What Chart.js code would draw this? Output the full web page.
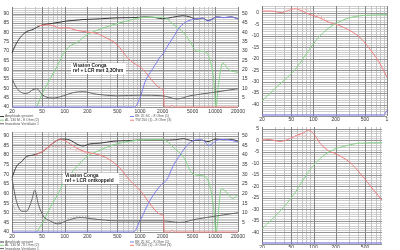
<!DOCTYPE html>
<html>
<head>
<meta charset="utf-8">
<script src="https://cdn.jsdelivr.net/npm/chart.js@4.4.1/dist/chart.umd.min.js"></script>
<style>
  body { margin: 0; background: #fff; width: 400px; height: 250px; overflow: hidden; position: relative; }
  canvas { position: absolute; }
</style>
</head>
<body>
<canvas id="chartA" width="252" height="125" style="left:0;top:0"></canvas>
<canvas id="chartC" width="252" height="125" style="left:0;top:125px"></canvas>
<canvas id="chartB" width="148" height="123" style="left:252px;top:0"></canvas>
<canvas id="chartD" width="148" height="129" style="left:252px;top:121px"></canvas>
<script>
// ---- tick labels ----
const freqLabelsWide = [20, 50, 100, 200, 500, 1000, 2000, 5000, 10000, 20000];
const freqLabelsNarrow = [20, 50, 100, 200, 500, 1000];
const impLabels = [5, 10, 15, 20, 25, 30, 35, 40, 45, 50];

// ---- top left: ref + LCR met 3,3 Ohm ----
const ampA_f = [20, 22, 25.5, 31, 38, 47, 57, 70, 90, 105, 130, 175, 240, 300, 400, 500, 700, 1000, 1100, 1500, 2000, 2700, 3700, 4600, 5600, 6800, 8000, 9000, 10500, 13000, 16000, 20000];
const ampA = [69, 72.7, 77, 80.2, 81.5, 83.5, 84.3, 84.8, 85.5, 86, 86.3, 86.8, 87, 87.2, 87.5, 87.7, 87.8, 88, 88.2, 88, 87.2, 88, 88.8, 88.2, 87, 87.5, 86.2, 87, 88.2, 87.8, 88.2, 87.2];
const blueA_f = [20, 850, 1000, 1170, 1370, 1600, 1860, 2040, 2260, 2740, 3240, 3740, 4330, 5020, 5700, 6800, 8000, 9000, 10500, 13000, 16000, 20000];
const blueA = [40, 40, 45, 53.5, 58.5, 62.7, 67, 68.5, 71.8, 77, 81.8, 84.5, 86, 86.8, 87.3, 87.5, 86, 86.8, 88.2, 87.8, 88.2, 87.2];
const greenA_f = [42.6, 50, 64, 82, 96, 118, 144, 196, 268, 400, 670, 1000, 1500, 2000, 2400, 2800, 3100, 3740, 4600, 5600, 6500, 7400, 8500, 9500, 10200, 11000, 12600, 15000, 20000];
const greenA = [40, 46.8, 55, 62.7, 68.5, 72.7, 74.3, 78.5, 81, 83.5, 86, 87.7, 88, 88, 86.5, 84, 82.7, 80, 75, 70, 69.8, 69.5, 65, 55, 40, 52, 63.5, 60, 58.5];
const redA_f = [45, 60, 70, 87, 105, 144, 196, 268, 363, 492, 670, 820, 1000, 1100, 1500, 1870, 2050, 2100, 2500, 2650, 2800, 20000];
const redA = [83.5, 84, 83.5, 82.2, 82.5, 81, 80.2, 79.3, 76.8, 73.5, 66.8, 63.5, 61.5, 60, 53.5, 50, 48.5, 40, 40, 41, 40, 40];
const impA_f = [20, 23, 27, 31, 38, 42.6, 50, 57.5, 70, 96, 130, 176, 268, 492, 1000, 2000, 3100, 4600, 9000, 20000];
const impA = [15.2, 10.2, 7.7, 7.2, 9.3, 9.8, 6.8, 5.2, 4.8, 6, 7.7, 8.2, 6.8, 6, 6.3, 6, 4.3, 6, 7.7, 9.8];

// ---- bottom left: ref + LCR ontkoppeld ----
const ampC_f = [20, 23, 27, 31, 38, 50, 64, 78, 90, 100, 118, 144, 176, 214, 294, 440, 670, 1000, 2000, 3000, 3740, 5000, 6500, 8000, 10000, 13000, 16000, 20000];
const ampC = [68.3, 74.2, 76.7, 79.2, 80, 81.7, 85, 87.5, 88.3, 88.3, 87.8, 85.8, 84.7, 85.8, 86.2, 87.2, 87.5, 87.8, 87.8, 88, 88.5, 87.5, 87.8, 87, 88.3, 88, 88.2, 87.3];
const blueC_f = [20, 820, 1000, 1370, 1870, 2300, 2740, 3400, 4200, 5100, 6000, 7000, 8200, 9500, 11000, 14000, 20000];
const blueC = [40, 40, 45.8, 56.7, 64.2, 67.5, 74.2, 80, 85, 87.5, 88, 87.5, 85, 86.5, 88, 88, 86.8];
const greenC_f = [42.6, 50, 64, 82, 100, 123, 160, 196, 294, 490, 1000, 1500, 2000, 2400, 2740, 3740, 5100, 6800, 8200, 9500, 10200, 12000, 14000, 17000, 20000];
const greenC = [40, 44.2, 52.5, 60, 66.7, 70.8, 75.8, 79.2, 82.5, 85.8, 87.8, 88, 88, 86.5, 84.2, 79.2, 70, 69.2, 65.8, 52.5, 40, 62.5, 60.8, 57.5, 59.2];
const redC_f = [40, 50, 64, 78, 87, 100, 118, 160, 214, 294, 400, 540, 740, 1000, 1500, 1870, 2050, 2100, 2500, 2650, 2800, 20000];
const redC = [80, 81.7, 85, 87.5, 88.3, 87.5, 85.8, 82.7, 81.2, 80, 77.5, 73.3, 66.7, 61.7, 52.5, 49.2, 48.3, 40, 40, 41, 40, 40];
const refAmpC_f = [45, 55, 70, 90, 110, 140, 180, 230];
const refAmpC = [81, 83, 84.5, 84.5, 84, 82.5, 81.5, 80.8];
const impC_f = [20, 23, 27, 31, 36.7, 40, 45, 52, 64, 82, 105, 160, 250, 490, 1000, 2000, 3400, 5600, 20000];
const impC = [27.5, 15.8, 10.8, 10.8, 16.7, 21.7, 14.2, 8.3, 5.8, 4.2, 5.8, 7.5, 6.7, 5.8, 5.8, 5.8, 5, 6.7, 10];
const refImpC_f = [20, 23, 27, 31, 38, 42.6, 50, 57.5, 70, 96, 130, 176, 268];
const refImpC = [15.2, 10.2, 7.7, 7.2, 9.3, 9.8, 6.8, 5.2, 4.8, 6, 7.7, 8.2, 6.8];

// ---- top right ----
const redB_f = [20, 27, 37, 43, 57, 70, 86, 117, 160, 220, 300, 410, 560, 770, 1000];
const redB = [0.8, 0.8, 0.1, 0.8, 1.8, 0.8, -0.5, -1.9, -4, -5.4, -7.4, -10.2, -15, -21.2, -28];
const refRedB_f = [40, 57, 70, 86, 117, 150];
const refRedB = [0.6, 2.0, 1.8, 1.2, -0.8, -3];
const greenB_f = [20, 34, 57, 86, 117, 160, 220, 330, 560, 1000];
const greenB = [-38.4, -31.4, -24.6, -16.4, -10.8, -6.7, -4, -1.9, -1, -0.8];
const blueB_f = [20, 900, 1000];
const blueB = [-44.6, -44.6, -42.5];

// ---- bottom right ----
const redD_f = [20, 25, 35, 48, 59, 73, 85, 100, 123, 150, 206, 310, 430, 590, 850];
const redD = [0.1, 0.4, -0.5, 0.8, 2.2, 3.2, 4.5, 2.9, -1.2, -4, -6, -9.5, -14.3, -19.8, -26];
const refRedD_f = [48, 60, 75, 100, 130, 160];
const refRedD = [0.8, 1.8, 2.0, 0.5, -1.8, -4.3];
const greenD_f = [20, 35, 53, 73, 100, 136, 187, 283, 430, 850];
const greenD = [-38.4, -30.8, -23.9, -17, -10.9, -6.7, -4, -2.3, -1.2, -1];
const blueD_f = [20, 850];
const blueD = [-44.6, -44.6];

const BLACK = '#3a3a3a', GRAY = '#666666', GREEN = '#84d384', RED = '#ef7c7c', BLUE = '#7c7cef';

Chart.defaults.font.family = 'Liberation Sans';
Chart.defaults.font.size = 5;
Chart.defaults.color = '#333';

function pts(f, v) {
    return f.map((x, i) => ({ x: x, y: v[i] }));
}

function line(label, f, v, color, extra) {
    return Object.assign({
        label: label,
        data: pts(f, v),
        borderColor: color,
        borderWidth: 1,
        pointRadius: 0,
        cubicInterpolationMode: 'monotone',
        clip: false,
        yAxisID: 'y'
    }, extra || {});
}

// grid lines at 20..90, 100..900, ... up to max
function freqGrid(max) {
    const out = [];
    for (let d = 10; d <= max; d *= 10) {
        for (let m = 1; m <= 9; m++) {
            const v = m * d;
            if (v >= 20 && v <= max) out.push(v);
        }
    }
    return out;
}

function xScale(max, labels, height, pad) {
    const grid = freqGrid(max);
    return {
        type: 'logarithmic', min: 20, max: max,
        afterBuildTicks: s => { s.ticks = grid.map(v => ({ value: v })); },
        afterFit: s => { s.height = height; },
        ticks: {
            autoSkip: false, maxRotation: 0, padding: pad,
            // the narrow panels are cropped, "1000" only shows its first digit
            callback: v => labels.includes(v) ? (v === 1000 && max === 1000 ? '1' : String(v)) : ''
        },
        grid: { display: false, drawTicks: false },
        border: { display: false }
    };
}

function yScale(min, max, width, labelFn) {
    return {
        position: 'left', min: min, max: max,
        afterBuildTicks: s => {
            const t = [];
            for (let v = Math.ceil(min / 5) * 5; v <= max; v += 5) t.push({ value: v });
            s.ticks = t;
        },
        afterFit: s => { s.width = width; },
        ticks: { autoSkip: false, padding: 3, callback: labelFn },
        grid: { display: false, drawTicks: false },
        border: { display: false }
    };
}

function impScale(max) {
    return {
        position: 'right', min: 0, max: max,
        afterBuildTicks: s => { s.ticks = impLabels.map(v => ({ value: v })); },
        afterFit: s => { s.width = 14; },
        ticks: { autoSkip: false, padding: 4 },
        grid: { display: false, drawTicks: false },
        border: { display: false }
    };
}

// dense measurement-style grid (1 dB steps), placed with the chart's own scales
function gridPlugin(xMax, xLabels, yMin, yMax) {
    const xs = freqGrid(xMax);
    return {
        id: 'denseGrid',
        beforeDatasetsDraw(chart) {
            const c = chart.ctx, a = chart.chartArea, sx = chart.scales.x, sy = chart.scales.y;
            const left = Math.round(a.left), w = Math.round(a.right) - left;
            const top = Math.round(a.top), h = Math.round(a.bottom) - top;
            const vline = (v, col) => {
                c.fillStyle = col;
                c.fillRect(Math.round(sx.getPixelForValue(v)), top, 1, h);
            };
            const hline = (v, col) => {
                c.fillStyle = col;
                c.fillRect(left, Math.round(sy.getPixelForValue(v)), w, 1);
            };
            const ys = [];
            for (let v = Math.ceil(yMin); v <= yMax; v++) ys.push(v);
            c.save();
            ys.forEach(v => { if (v % 5 !== 0) hline(v, '#cdcdcd'); });
            xs.forEach(v => { if (!xLabels.includes(v)) vline(v, '#c4c4c4'); });
            ys.forEach(v => { if (v % 5 === 0) hline(v, '#939393'); });
            xs.forEach(v => { if (xLabels.includes(v)) vline(v, '#858585'); });
            c.fillStyle = '#7a7a7a';
            c.fillRect(left, top, 1, h);
            c.restore();
        }
    };
}

// small legend rows drawn under the wide charts
function legendPlugin(rows) {
    return {
        id: 'rowsLegend',
        afterDraw(chart) {
            const c = chart.ctx;
            c.save();
            c.font = '3.5px "Liberation Sans"';
            c.textBaseline = 'middle';
            rows.forEach(r => {
                const ds = chart.data.datasets[r.ds];
                c.strokeStyle = ds.borderColor;
                c.lineWidth = 1;
                c.beginPath();
                c.moveTo(r.x, r.y);
                c.lineTo(r.x + 4, r.y);
                c.stroke();
                c.fillStyle = '#555';
                c.fillText(ds.label, r.x + 5, r.y);
            });
            c.restore();
        }
    };
}

function notePlugin(x, y, w, lines) {
    return {
        id: 'note',
        afterDatasetsDraw(chart) {
            const c = chart.ctx;
            c.save();
            c.fillStyle = '#fff';
            c.fillRect(x, y, w, 11);
            c.fillStyle = '#222';
            c.font = '600 4.8px "Liberation Sans"';
            c.textBaseline = 'middle';
            c.fillText(lines[0], x + 2, y + 3);
            c.fillText(lines[1], x + 2, y + 7.6);
            c.restore();
        }
    };
}

const common = {
    responsive: false,
    animation: false,
    devicePixelRatio: 1,
    layout: { padding: 0 },
    plugins: { legend: { display: false }, tooltip: { enabled: false } }
};

const dbLabel = v => String(v);

// top left
new Chart(document.getElementById('chartA'), {
    type: 'line',
    data: {
        datasets: [
            line('Impedanz Ventilator 1', impA_f, impA, GRAY, { yAxisID: 'y2' }),
            line('KE 25 SC - 8 Ohm (1)', blueA_f, blueA, BLUE),
            line('TW 250 (1) - 8 Ohm (3)', redA_f, redA, RED),
            line('AL 130 M - 8 Ohm (2)', greenA_f, greenA, GREEN),
            line('Amplitude gesamt', ampA_f, ampA, BLACK)
        ]
    },
    options: Object.assign({}, common, {
        scales: {
            x: xScale(20000, freqLabelsWide, 18, 2),
            y: yScale(40, 93.5, 12, dbLabel),
            y2: impScale(53.5)
        }
    }),
    plugins: [
        gridPlugin(20000, freqLabelsWide, 40, 93.5),
        notePlugin(71, 63, 55, ['Visaton Conga', 'ref + LCR met 3,3Ohm']),
        legendPlugin([
            { ds: 4, x: 0, y: 116.5 }, { ds: 3, x: 0, y: 120.2 }, { ds: 0, x: 0, y: 123.8 },
            { ds: 1, x: 130, y: 116.5 }, { ds: 2, x: 130, y: 120.2 }
        ])
    ]
});

// bottom left
new Chart(document.getElementById('chartC'), {
    type: 'line',
    data: {
        datasets: [
            line('Impedanz Ventilator 1', impC_f, impC, GRAY, { yAxisID: 'y2' }),
            line('ref impedance', refImpC_f, refImpC, '#b8b8b8', { yAxisID: 'y2', borderDash: [1.5, 1.5] }),
            line('KE 25 SC - 8 Ohm (1)', blueC_f, blueC, BLUE),
            line('TW 250 (1) - 8 Ohm (3)', redC_f, redC, RED),
            line('AL 130 M - 8 Ohm (2)', greenC_f, greenC, GREEN),
            line('ref', refAmpC_f, refAmpC, '#f2b0b0', { borderDash: [1.5, 1.5] }),
            line('Amplitude gesamt', ampC_f, ampC, BLACK)
        ]
    },
    options: Object.assign({}, common, {
        layout: { padding: { top: 3 } },
        scales: {
            x: xScale(20000, freqLabelsWide, 18, 2),
            y: yScale(40, 92, 12, dbLabel),
            y2: impScale(52)
        }
    }),
    plugins: [
        gridPlugin(20000, freqLabelsWide, 40, 92),
        notePlugin(63, 48, 56, ['Visaton Conga', 'ref + LCR ontkoppeld']),
        legendPlugin([
            { ds: 6, x: 0, y: 117 }, { ds: 4, x: 0, y: 120.3 }, { ds: 0, x: 0, y: 123.6 },
            { ds: 2, x: 130, y: 117 }, { ds: 3, x: 130, y: 120.3 }
        ])
    ]
});

// top right
new Chart(document.getElementById('chartB'), {
    type: 'line',
    data: {
        datasets: [
            line('KE 25 SC', blueB_f, blueB, BLUE),
            line('AL 130 M', greenB_f, greenB, GREEN),
            line('ref', refRedB_f, refRedB, '#f4b4b4', { borderDash: [1.5, 1.5] }),
            line('TW 250', redB_f, redB, RED)
        ]
    },
    options: Object.assign({}, common, {
        layout: { padding: { right: 13 } },
        scales: {
            x: xScale(1000, freqLabelsNarrow, 7, 1),
            y: yScale(-45, 3, 10, v => v >= -40 && v <= 0 ? String(v) : '')
        }
    }),
    plugins: [gridPlugin(1000, freqLabelsNarrow, -45, 3)]
});

// bottom right
new Chart(document.getElementById('chartD'), {
    type: 'line',
    data: {
        datasets: [
            line('KE 25 SC', blueD_f, blueD, BLUE),
            line('AL 130 M', greenD_f, greenD, GREEN),
            line('ref', refRedD_f, refRedD, '#f4b4b4', { borderDash: [1.5, 1.5] }),
            line('TW 250', redD_f, redD, RED)
        ]
    },
    options: Object.assign({}, common, {
        layout: { padding: { top: 2, right: 18 } },
        scales: {
            x: xScale(850, freqLabelsNarrow, 4, 1),
            y: yScale(-45, 5.8, 10, v => v >= -40 ? String(v) : '')
        }
    }),
    plugins: [gridPlugin(850, freqLabelsNarrow, -45, 5.8)]
});
</script>
</body>
</html>
